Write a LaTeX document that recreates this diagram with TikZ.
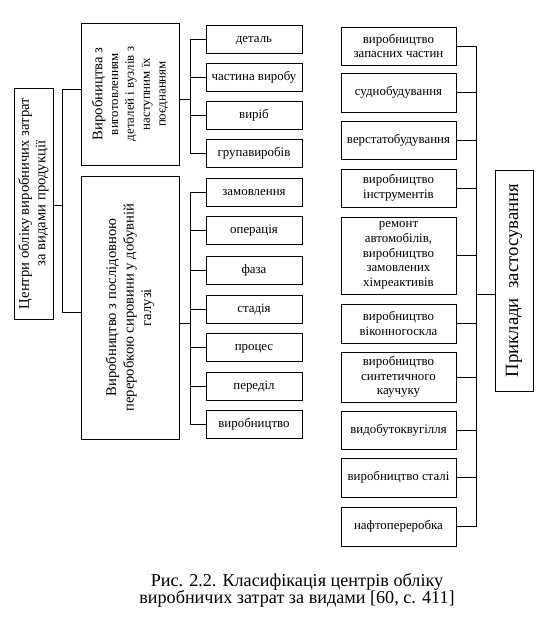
\documentclass[tikz,border=0pt]{standalone}
\usepackage{fontspec}
\setmainfont{Liberation Serif}
\begin{document}
\begin{tikzpicture}[x=0.03cm,y=-0.03cm,
  box/.style={draw, line width=0.8pt, inner sep=1pt, align=center, font=\fontsize{11}{12.5}\selectfont},
  one/.style={text height=1.6ex, text depth=0.4ex},
  sbox/.style={box, one, minimum width=2.88cm, minimum height=0.84cm},
  rbox/.style={box, minimum width=3.45cm},
  conn/.style={line width=0.75pt}]
\useasboundingbox (0,0) rectangle (544,619);

% left main box
\node[box, rotate=90, minimum width=6.93cm, minimum height=1.17cm, font=\fontsize{12.5}{14}\selectfont] (L) at (33.5,203.5)
  {Центри обліку виробничих затрат\\за видами продукції};
% middle big boxes
\node[box, rotate=90, minimum width=4.26cm, minimum height=2.94cm, font=\fontsize{11}{13.5}\selectfont] (B2) at (130,94)
  {{\fontsize{12.5}{13.5}\selectfont Виробництва з}\\виготовленням\\деталей і вузлів з\\наступним їх\\поєднанням};
\node[box, rotate=90, minimum width=7.89cm, minimum height=2.94cm, font=\fontsize{12.5}{15}\selectfont] (B3) at (130,307.5)
  {Виробництво з послідовною\\переробкою сировини у добувній\\галузі};

% small boxes
\node[sbox] (s1) at (254,39) {деталь};
\node[sbox] (s2) at (254,77) {частина виробу};
\node[sbox] (s3) at (254,115) {виріб};
\node[sbox] (s4) at (254,153.5) {групавиробів};
\node[sbox] (s5) at (254,192) {замовлення};
\node[sbox] (s6) at (254,230) {операція};
\node[sbox] (s7) at (254,270.5) {фаза};
\node[sbox] (s8) at (254,309) {стадія};
\node[sbox] (s9) at (254,347.5) {процес};
\node[sbox] (s10) at (254,386) {переділ};
\node[sbox] (s11) at (254,424.5) {виробництво};

% right boxes
\node[rbox, minimum height=1.14cm] (r1) at (398.5,46) {виробництво\\запасних частин};
\node[rbox, one, minimum height=1.17cm] (r2) at (398.5,92.5) {суднобудування};
\node[rbox, one, minimum height=1.14cm] (r3) at (398.5,140) {верстатобудування};
\node[rbox, minimum height=1.14cm] (r4) at (398.5,188) {виробництво\\інструментів};
\node[rbox, minimum height=2.31cm] (r5) at (398.5,255.5) {ремонт\\автомобілів,\\виробництво\\замовлених\\хімреактивів};
\node[rbox, minimum height=1.17cm] (r6) at (398.5,323.5) {виробництво\\віконногоскла};
\node[rbox, minimum height=1.5cm] (r7) at (398.5,377) {виробництво\\синтетичного\\каучуку};
\node[rbox, one, minimum height=1.14cm] (r8) at (398.5,430) {видобутоквугілля};
\node[rbox, one, minimum height=1.17cm] (r9) at (398.5,477.5) {виробництво сталі};
\node[rbox, one, minimum height=1.17cm] (r10) at (398.5,526.5) {нафтопереробка};

\node[box, rotate=90, minimum width=6.63cm, minimum height=1.14cm, font=\fontsize{16}{18}\selectfont] (P) at (514,280.5)
  {Приклади\ \ застосування};

% caption
\node[align=center, font=\fontsize{15.5}{14.5}\selectfont] (cap) at (297,590)
  {Рис. 2.2. Класифікація центрів обліку\\виробничих затрат за видами [60, с. 411]};

% buses
\coordinate (b1t) at (62,89);
\coordinate (b1b) at (62,312);
\coordinate (b1m) at (62,205);
\draw[conn] (b1t -| B2.north) -- (b1t) -- (b1b) -- (b1b -| B3.north);
\draw[conn] (b1m -| L.south) -- (b1m);

\coordinate (b2) at (190,99);
\draw[conn] (b2 -| B2.south) -- (b2);
\draw[conn] (s1.west -| b2) -- (s4.west -| b2);
\foreach \i in {1,...,4} \draw[conn] (s\i.west) -- (s\i.west -| b2);

\coordinate (b3) at (190,323);
\draw[conn] (b3 -| B3.south) -- (b3);
\draw[conn] (s5.west -| b3) -- (s11.west -| b3);
\foreach \i in {5,...,11} \draw[conn] (s\i.west) -- (s\i.west -| b3);

\coordinate (b4) at (476,294);
\draw[conn] (r1.east -| b4) -- (r10.east -| b4);
\foreach \i in {1,...,10} \draw[conn] (r\i.east) -- (r\i.east -| b4);
\draw[conn] (b4) -- (b4 -| P.north);
\end{tikzpicture}
\end{document}
